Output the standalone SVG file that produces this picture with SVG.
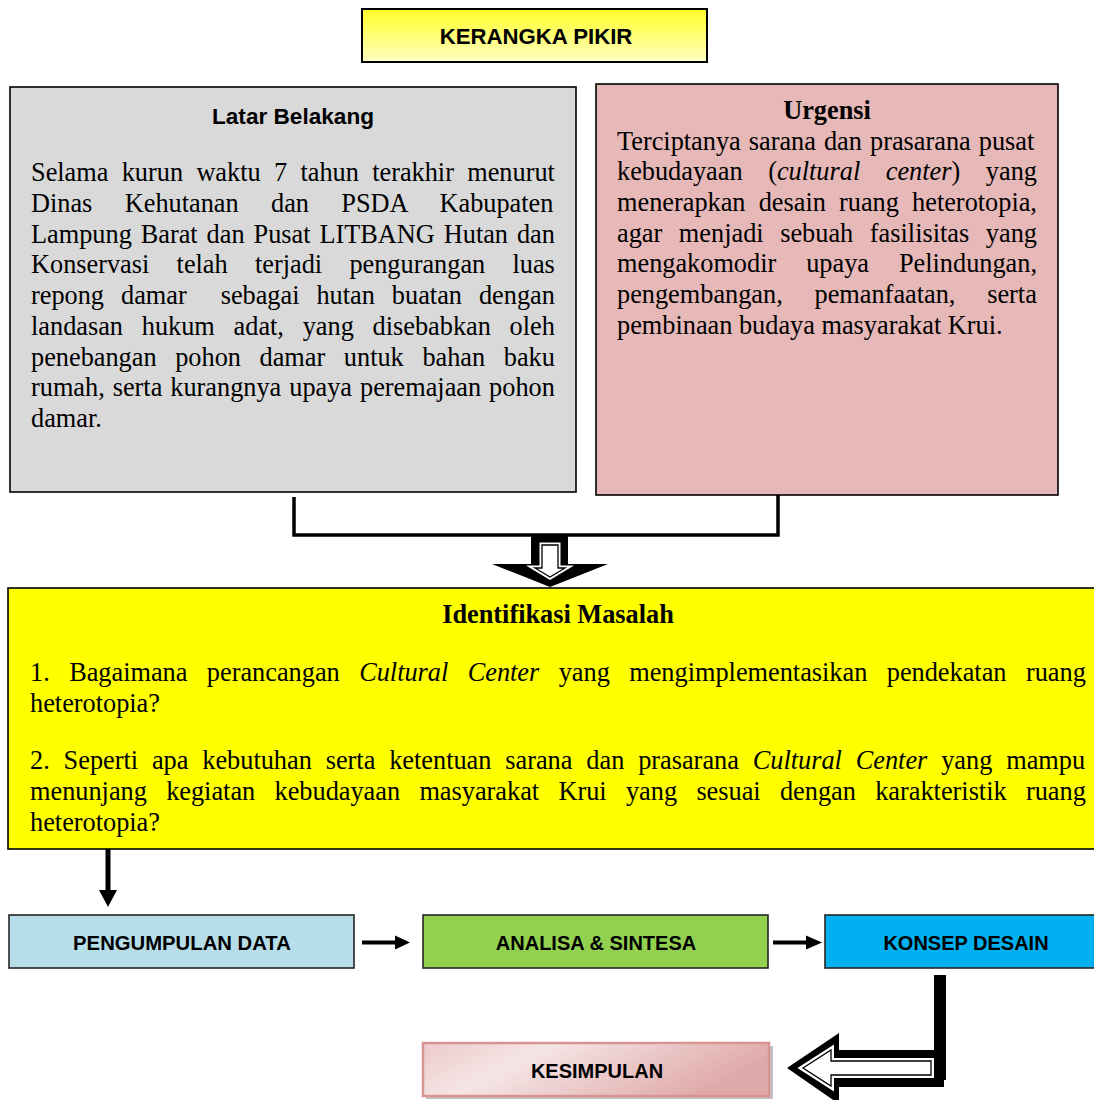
<svg xmlns="http://www.w3.org/2000/svg" width="1094" height="1100" viewBox="0 0 1094 1100">
<defs>
<style>
.sans{font-family:"Liberation Sans",Arial,sans-serif;font-weight:bold;fill:#000}
.serif{font-family:"Liberation Serif","Times New Roman",serif;font-size:26.3px;fill:#000}
.b{font-weight:bold}
.i{font-style:italic}
.box{stroke:#000;stroke-width:1.6}
.step{stroke:#262626;stroke-width:1.6}
.conn{stroke:#000;fill:none}
</style>
<linearGradient id="gTitle" x1="0" y1="0" x2="0" y2="1">
<stop offset="0" stop-color="#ffff26"/>
<stop offset="1" stop-color="#ffffc4"/>
</linearGradient>
<linearGradient id="gKes" x1="0" y1="0" x2="1" y2="0.3">
<stop offset="0" stop-color="#eccaca"/>
<stop offset="0.35" stop-color="#f5e5e5"/>
<stop offset="1" stop-color="#e0a9a9"/>
</linearGradient>
</defs>

<g id="title">
<rect x="362" y="9" width="345" height="53" fill="url(#gTitle)" stroke="#000" stroke-width="2"/>
<text class="sans" x="536" y="43.5" font-size="22.2" text-anchor="middle">KERANGKA PIKIR</text>
</g>

<g id="latar-belakang">
<rect class="box" x="10" y="87" width="566" height="405" fill="#d9d9d9"/>
<text class="sans" x="293" y="124" font-size="22.6" text-anchor="middle">Latar Belakang</text>
<text class="serif" x="31" y="181" style="word-spacing:6.74px">Selama kurun waktu 7 tahun terakhir menurut</text>
<text class="serif" x="31" y="211.75" style="word-spacing:25.8px">Dinas Kehutanan dan PSDA Kabupaten</text>
<text class="serif" x="31" y="242.5" style="word-spacing:2.36px">Lampung Barat dan Pusat LITBANG Hutan dan</text>
<text class="serif" x="31" y="273.25" style="word-spacing:20.7px">Konservasi telah terjadi pengurangan luas</text>
<text class="serif" x="31" y="304" xml:space="preserve" style="word-spacing:10.4px;white-space:pre">repong damar  sebagai hutan buatan dengan</text>
<text class="serif" x="31" y="334.75" style="word-spacing:12.18px">landasan hukum adat, yang disebabkan oleh</text>
<text class="serif" x="31" y="365.5" style="word-spacing:12.04px">penebangan pohon damar untuk bahan baku</text>
<text class="serif" x="31" y="396.25" style="word-spacing:1.38px">rumah, serta kurangnya upaya peremajaan pohon</text>
<text class="serif" x="31" y="427">damar.</text>
</g>

<g id="urgensi">
<rect class="box" x="596" y="84" width="462" height="411" fill="#e6b8b7"/>
<text class="serif b" x="827" y="119" text-anchor="middle">Urgensi</text>
<text class="serif" x="617" y="149.5" style="word-spacing:1.47px">Terciptanya sarana dan prasarana pusat</text>
<text class="serif" x="617" y="180.2" style="word-spacing:19px">kebudayaan (<tspan class="i">cultural center</tspan>) yang</text>
<text class="serif" x="617" y="210.9" style="word-spacing:6.6px">menerapkan desain ruang heterotopia,</text>
<text class="serif" x="617" y="241.6" style="word-spacing:10.05px">agar menjadi sebuah fasilisitas yang</text>
<text class="serif" x="617" y="272.3" style="word-spacing:23.4px">mengakomodir upaya Pelindungan,</text>
<text class="serif" x="617" y="303" style="word-spacing:25.2px">pengembangan, pemanfaatan, serta</text>
<text class="serif" x="617" y="333.7">pembinaan budaya masyarakat Krui.</text>
</g>

<g id="identifikasi-masalah">
<rect class="box" x="8" y="588" width="1100" height="261" fill="#ffff00"/>
<text class="serif b" x="558" y="623" text-anchor="middle">Identifikasi Masalah</text>
<text class="serif" x="30" y="681" style="word-spacing:12.85px">1. Bagaimana perancangan <tspan class="i">Cultural Center</tspan> yang mengimplementasikan pendekatan ruang</text>
<text class="serif" x="30" y="712">heterotopia?</text>
<text class="serif" x="30" y="769" style="word-spacing:7.29px">2. Seperti apa kebutuhan serta ketentuan sarana dan prasarana <tspan class="i">Cultural Center</tspan> yang mampu</text>
<text class="serif" x="30" y="800" style="word-spacing:12.73px">menunjang kegiatan kebudayaan masyarakat Krui yang sesuai dengan karakteristik ruang</text>
<text class="serif" x="30" y="831">heterotopia?</text>
</g>

<g id="pengumpulan-data">
<rect class="step" x="9" y="915" width="345" height="53" fill="#b7dee8"/>
<text class="sans" x="182" y="950" font-size="20.3" text-anchor="middle">PENGUMPULAN DATA</text>
</g>

<g id="analisa-sintesa">
<rect class="step" x="423" y="915" width="345" height="53" fill="#92d050"/>
<text class="sans" x="596" y="950" font-size="20" text-anchor="middle">ANALISA &amp; SINTESA</text>
</g>

<g id="konsep-desain">
<rect class="step" x="825" y="915" width="290" height="53" fill="#00b0f0"/>
<text class="sans" x="966" y="950" font-size="20" text-anchor="middle">KONSEP DESAIN</text>
</g>

<g id="kesimpulan">
<rect x="426" y="1046" width="347" height="53" fill="#a6a6a6" opacity="0.7"/>
<rect x="423" y="1043" width="346" height="53" fill="url(#gKes)" stroke="#d89393" stroke-width="2.5"/>
<text class="sans" x="597" y="1077.5" font-size="20" text-anchor="middle">KESIMPULAN</text>
</g>

<g id="connectors">
<path class="conn" d="M294,497 V535 H778 V495" stroke-width="3.5"/>
<polygon points="531,536 568,536 568,564 608,564 550,587 492,564 531,564" fill="#000"/>
<polygon points="542,545 558,545 558,568 565,568 550,577 535,568 542,568" fill="#fff" stroke="#fff" stroke-width="5"/>
<polygon points="542,545 558,545 558,568 565,568 550,577 535,568 542,568" fill="#fff" stroke="#000" stroke-width="1.3"/>
<line class="conn" x1="108" y1="849" x2="108" y2="891" stroke-width="5"/>
<polygon points="99,890 117,890 108,907" fill="#000"/>
<line class="conn" x1="362" y1="942.5" x2="396" y2="942.5" stroke-width="4"/>
<polygon points="395,935.5 410,942.5 395,949.5" fill="#000"/>
<line class="conn" x1="773" y1="942.5" x2="807" y2="942.5" stroke-width="4"/>
<polygon points="806,935.5 822,942.5 806,949.5" fill="#000"/>
<rect x="934" y="975" width="12" height="105" fill="#000"/>
<polygon points="787,1068 839,1033 839,1050 944,1050 944,1087 839,1087 839,1104" fill="#000"/>
<polygon points="803,1068 831,1050 831,1061 931,1061 931,1075 831,1075 831,1086" fill="#fff" stroke="#fff" stroke-width="6"/>
<polygon points="803,1068 831,1050 831,1061 931,1061 931,1075 831,1075 831,1086" fill="#fff" stroke="#000" stroke-width="1.3"/>
</g>
</svg>
